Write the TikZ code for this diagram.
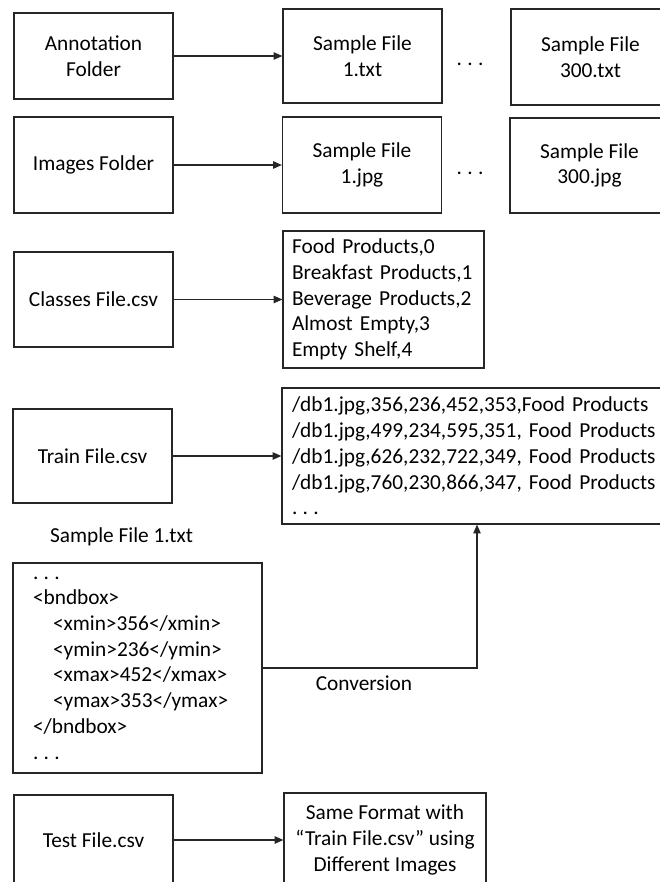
\documentclass[tikz,border=0pt]{standalone}
\usepackage{fontspec}
\setmainfont{Carlito}
\usetikzlibrary{arrows.meta}
\newcommand\ddd{.\hspace{0.25em}.\hspace{0.25em}.}
\tikzset{
	filebox/.style={draw=black!85, line width=0.9pt, minimum width=119.25pt, minimum height=71.25pt, align=center, inner sep=2pt},
	listbox/.style={draw=black!85, line width=0.9pt, align=left, inner ysep=0pt},
	flow/.style={draw=black!85, line width=0.9pt, -{Triangle[length=6.5pt,width=5.5pt]}},
}

\begin{document}
\begin{tikzpicture}[x=0.75pt,y=-0.75pt,font=\fontsize{16}{19.3}\selectfont]
				\useasboundingbox (0,0) rectangle (660,882);
				\clip (0,0) rectangle (660,882);
				
				\node[filebox, minimum height=64.5pt] (ann) at (93.5,56) {Annotation\\Folder};
				\node[filebox, minimum height=70.5pt] (s1txt) at (362.5,56) {Sample File\\1.txt};
				\node (dotstxt) at (470,64) {\ddd};
				\node[filebox, minimum height=72pt] (s300txt) at (590.5,57) {Sample File\\300.txt};
				
				\node[filebox, minimum height=72pt] (img) at (93.5,165) {Images Folder};
				\node[filebox, minimum height=72pt] (s1jpg) at (362,165) {Sample File\\1.jpg};
				\node (dotsjpg) at (470,173) {\ddd};
				\node[filebox] (s300jpg) at (589.5,165.5) {Sample File\\300.jpg};
				
				\node[filebox] (cls) at (93.5,299.5) {Classes File.csv};
				\node[listbox, inner xsep=6.75pt, text width=137.25pt, minimum height=102.75pt] (clslist) at (383.5,299.5)
					{Food Products,0\\Breakfast Products,1\\Beverage Products,2\\Almost Empty,3\\Empty Shelf,4};
				
				\node[filebox, minimum height=70.5pt] (train) at (92.5,456) {Train File.csv};
				\node[listbox, inner xsep=7.5pt, text width=277.5pt, minimum height=102pt] (trainlist) at (477,456)
					{/db1.jpg,356,236,452,353,Food Products\\/db1.jpg,499,234,595,351, Food Products\\/db1.jpg,626,232,722,349, Food Products\\/db1.jpg,760,230,866,347, Food Products\\\ddd};
				
				\node (smplbl) at (121.5,537) {Sample File 1.txt};
				\node[listbox, inner xsep=15pt, text width=156.75pt, minimum height=157.5pt] (smp) at (137.5,668)
					{\ddd\\<bndbox>\\\hspace*{15pt}<xmin>356</xmin>\\\hspace*{15pt}<ymin>236</ymin>\\\hspace*{15pt}<xmax>452</xmax>\\\hspace*{15pt}<ymax>353</ymax>\\</bndbox>\\\ddd};
				\node (conv) at (364,683) {Conversion};
				
				\node[filebox, minimum height=67.5pt] (test) at (93.5,840) {Test File.csv};
				\node[filebox, minimum width=151.5pt, minimum height=70.5pt] (same) at (385,840) {Same Format with\\“Train File.csv” using\\Different Images};
				
				\draw[flow] (ann) -- (s1txt);
				\draw[flow] (img) -- (s1jpg);
				\draw[flow] (cls) -- (clslist);
				\draw[flow] (train) -- (trainlist);
				\draw[flow] (smp.east) -| (trainlist.south);
				\draw[flow] (test) -- (same);
			\end{tikzpicture}
\end{document}
